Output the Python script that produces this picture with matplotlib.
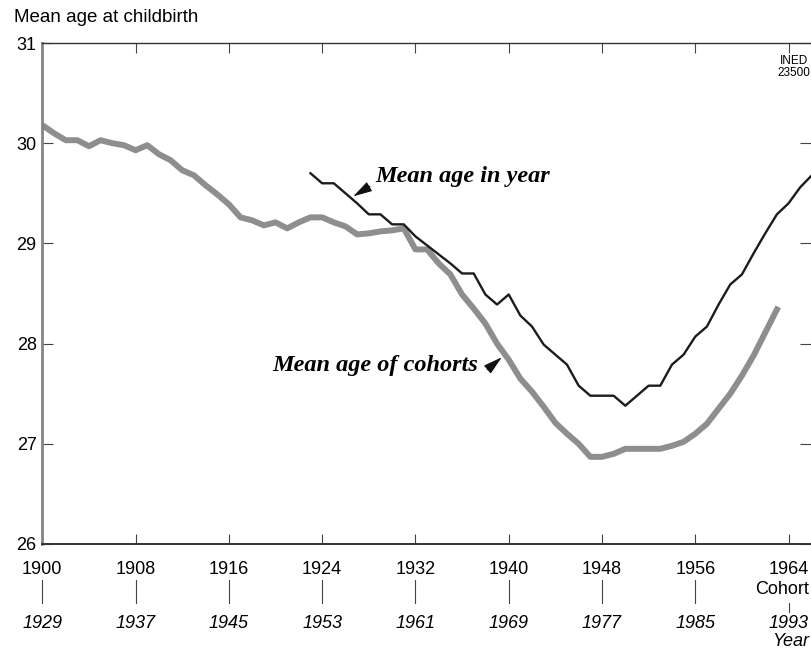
import matplotlib.pyplot as plt
from matplotlib.transforms import blended_transform_factory

plt.rcParams['font.family'] = ['Liberation Sans', 'DejaVu Sans']

# mean age at childbirth, by cohort (gray) and by calendar year (black)
cohorts = list(range(1900, 1964))
age_cohorts = [30.18, 30.10, 30.03, 30.03, 29.97, 30.03, 30.00, 29.98, 29.93, 29.98,
               29.89, 29.83, 29.73, 29.68, 29.58, 29.49, 29.39, 29.26, 29.23, 29.18,
               29.21, 29.15, 29.21, 29.26, 29.26, 29.21, 29.17, 29.09, 29.10, 29.12,
               29.13, 29.15, 28.94, 28.94, 28.80, 28.69, 28.49, 28.35, 28.20, 28.00,
               27.84, 27.65, 27.52, 27.37, 27.21, 27.10, 27.00, 26.87, 26.87, 26.90,
               26.95, 26.95, 26.95, 26.95, 26.98, 27.02, 27.10, 27.20, 27.35, 27.50,
               27.68, 27.88, 28.11, 28.34]

years = list(range(1952, 1996))
age_years = [29.70, 29.60, 29.60, 29.50, 29.40, 29.29, 29.29, 29.19, 29.19, 29.07,
             28.98, 28.89, 28.80, 28.70, 28.70, 28.49, 28.39, 28.49, 28.28, 28.17,
             27.99, 27.89, 27.79, 27.58, 27.48, 27.48, 27.48, 27.38, 27.48, 27.58,
             27.58, 27.79, 27.89, 28.07, 28.17, 28.39, 28.59, 28.69, 28.90, 29.10,
             29.29, 29.40, 29.56, 29.68]

lag = 29  # year axis = cohort + 29
cohort_ticks = list(range(1900, 1965, 8))
year_ticks = [c + lag for c in cohort_ticks]
y_ticks = [26, 27, 28, 29, 30, 31]

W, H = 811, 652
fig = plt.figure(figsize=(W / 100, H / 100), dpi=100)
x0, x1, y_top, y_bot = 42.3, 811, 43, 544
ax = fig.add_axes([x0 / W, 1 - y_bot / H, (x1 - x0) / W, (y_bot - y_top) / H])

ax.plot(cohorts, age_cohorts, color='#8e8e8e', lw=4.3, zorder=2)
ax.plot([y - lag for y in years], age_years, color='#1c1c1c', lw=1.7, zorder=3)

ax.set_xlim(1900, 1900 + (x1 - x0) / 11.66)
ax.set_ylim(26, 31)

ax.spines['right'].set_visible(False)
ax.spines['left'].set_color('#858585')
ax.spines['left'].set_linewidth(2.0)
ax.spines['bottom'].set_color('#333333')
ax.spines['bottom'].set_linewidth(1.4)
ax.spines['top'].set_color('#333333')
ax.spines['top'].set_linewidth(1.0)

ax.set_xticks(cohort_ticks)
ax.set_yticks(y_ticks)
ax.tick_params(axis='x', direction='in', top=True, length=7, width=0.8,
               color='#444444', labelsize=13, pad=12)
ax.tick_params(axis='y', direction='in', right=True, length=8, width=0.8,
               color='#444444', labelsize=13, pad=4)

# second row: calendar years
tr = blended_transform_factory(ax.transData, fig.transFigure)
def fy(px):
    return 1 - px / H

for c, yr in zip(cohort_ticks, year_ticks):
    if c == cohort_ticks[-1]:
        ax.plot([c, c], [fy(603), fy(612)], transform=tr, color='#444444',
                lw=0.8, clip_on=False)
    else:
        ax.plot([c, c], [fy(580), fy(603)], transform=tr, color='#444444',
                lw=0.8, clip_on=False)
    ax.text(c, fy(623), str(yr), transform=tr, ha='center', va='center',
            fontsize=13, style='italic')

fig.text(809 / W, fy(589), 'Cohort', ha='right', va='center', fontsize=13)
fig.text(809 / W, fy(641), 'Year', ha='right', va='center', fontsize=13,
         style='italic')

fig.text(14 / W, fy(18), 'Mean age at childbirth', ha='left', va='center', fontsize=13.5)
fig.text(794 / W, fy(55), 'INED\n23500', ha='center', va='top', fontsize=8.5,
         linespacing=0.95)

# annotations
serif = dict(family=['Liberation Serif', 'DejaVu Serif'], style='italic',
             weight='bold', fontsize=17.5)
ax.text(1928.55, 29.67, 'Mean age in year', ha='left', va='center', **serif)
ax.text(1919.7, 27.78, 'Mean age of cohorts', ha='left', va='center', **serif)

head = dict(arrowstyle='-|>,head_length=0.9,head_width=0.25', color='#111111',
            lw=0.8, shrinkA=0, shrinkB=0, mutation_scale=13)
ax.annotate('', xy=(1926.67, 29.47), xytext=(1928.1, 29.57), arrowprops=head)
ax.annotate('', xy=(1939.40, 27.863), xytext=(1938.16, 27.74), arrowprops=head)

fig.savefig('out.png', dpi=100)
